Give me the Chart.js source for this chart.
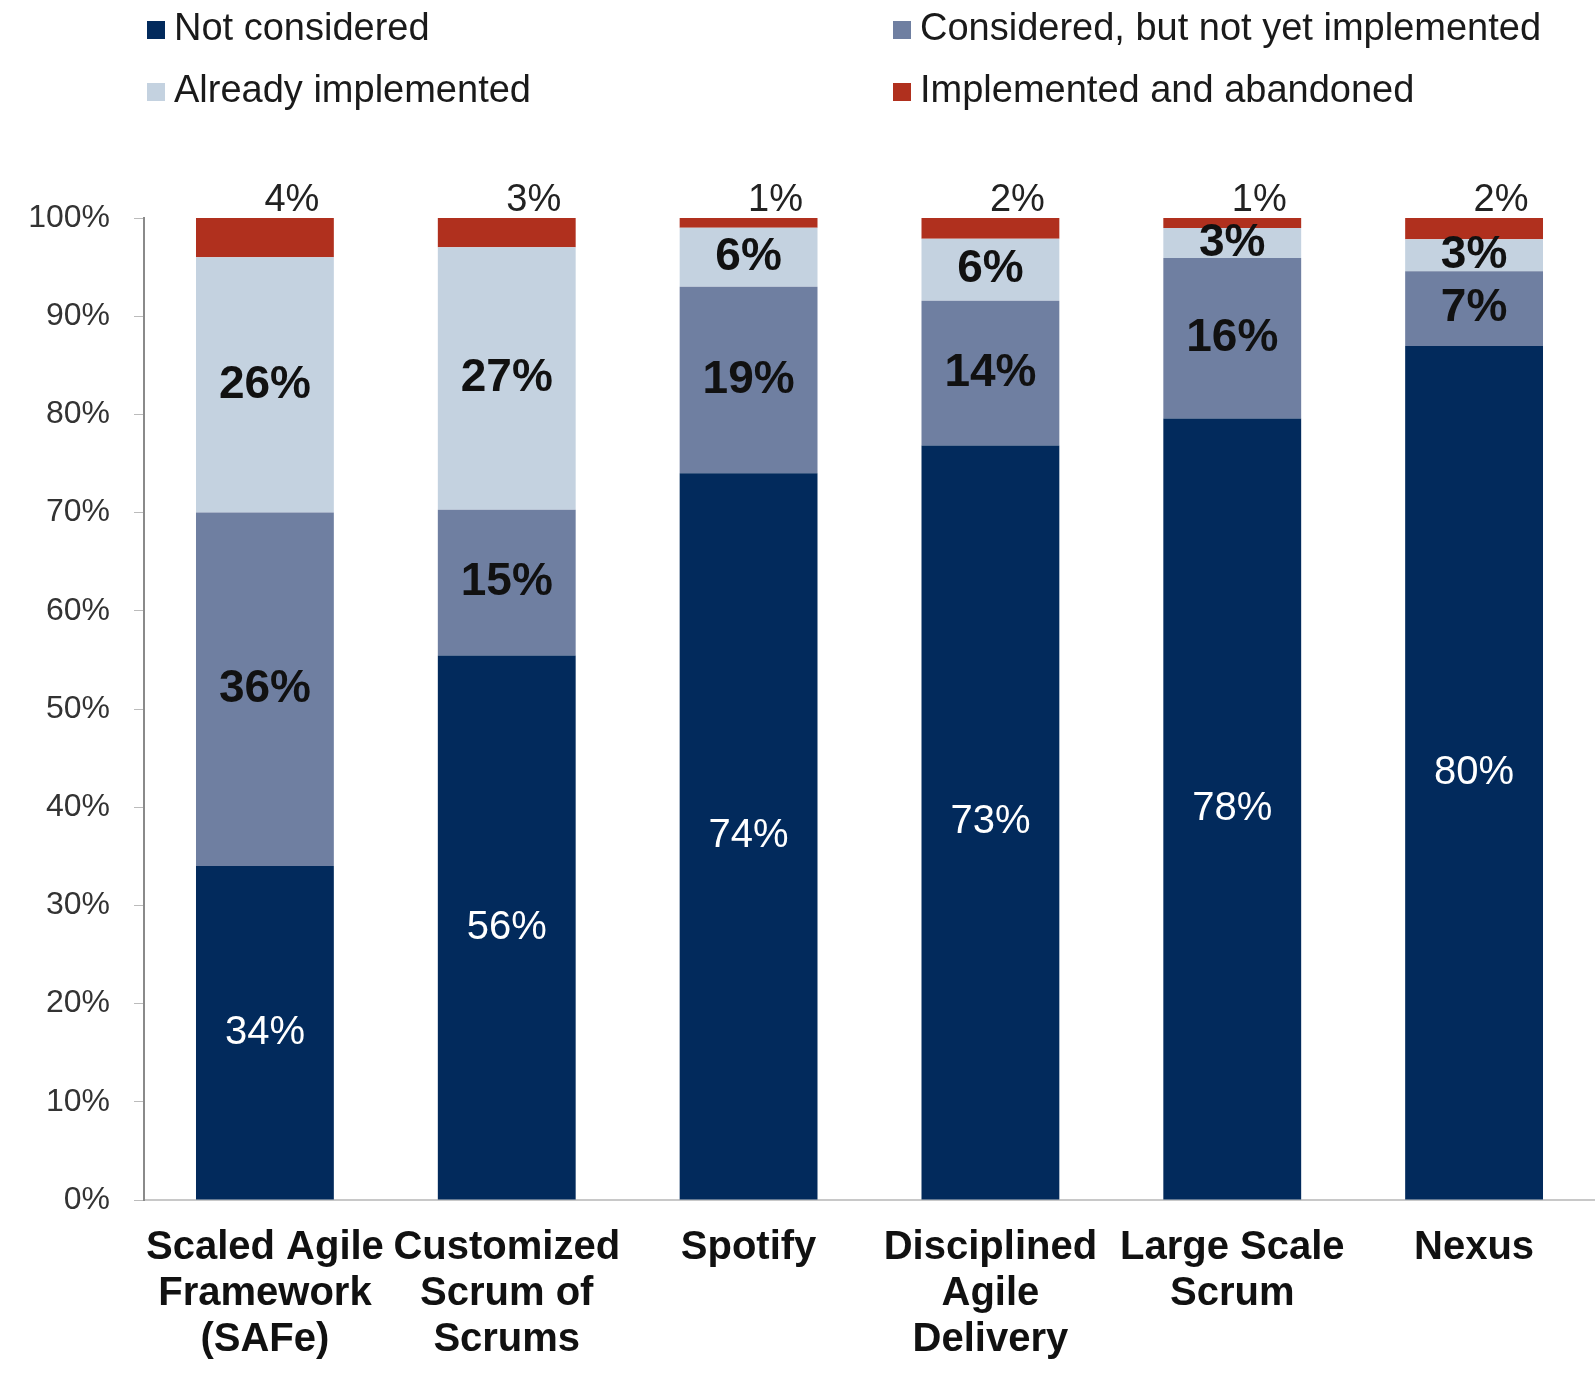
<!DOCTYPE html>
<html>
<head>
<meta charset="utf-8">
<script src="https://cdn.jsdelivr.net/npm/chart.js@4"></script>
<style>
html,body{margin:0;padding:0;background:#fff;}
#wrap{width:1595px;height:1383px;}
</style>
</head>
<body>
<div id="wrap"><canvas id="c" width="1595" height="1383"></canvas></div>
<script>
// ---- data ----
const categories = [
  ["Scaled Agile", "Framework", "(SAFe)"],
  ["Customized", "Scrum of", "Scrums"],
  ["Spotify"],
  ["Disciplined", "Agile", "Delivery"],
  ["Large Scale", "Scrum"],
  ["Nexus"]
];
const seriesNames = ["Not considered", "Considered, but not yet implemented", "Already implemented", "Implemented and abandoned"];
const notConsidered = [34, 56, 74, 73, 78, 80];
const consideredNotImpl = [36, 15, 19, 14, 16, 7];
const alreadyImpl = [26, 27, 6, 6, 3, 3];
const abandoned = [4, 3, 1, 2, 1, 2];
const yTicks = [0, 10, 20, 30, 40, 50, 60, 70, 80, 90, 100];

const colors = ["#022a5c", "#6f7fa1", "#c4d2e0", "#b0301e"];
const raw = [notConsidered, consideredNotImpl, alreadyImpl, abandoned];
// 100% stacked: each column normalized to its total
const totals = categories.map((_, i) => raw.reduce((s, arr) => s + arr[i], 0));
const normalized = raw.map(arr => arr.map((v, i) => v / totals[i] * 100));

const FONT = "'Liberation Sans', Arial, sans-serif";

const labelPlugin = {
  id: 'segLabels',
  afterDatasetsDraw(chart) {
    const ctx = chart.ctx;
    ctx.save();
    chart.data.datasets.forEach((ds, di) => {
      const meta = chart.getDatasetMeta(di);
      meta.data.forEach((el, i) => {
        const txt = raw[di][i] + '%';
        const top = Math.min(el.y, el.base), bot = Math.max(el.y, el.base);
        ctx.textAlign = 'center';
        if (di === 3) {
          ctx.font = `38px ${FONT}`;
          ctx.fillStyle = '#222';
          ctx.textBaseline = 'alphabetic';
          ctx.fillText(txt, el.x + 27, top - 7);
        } else if (di === 0) {
          ctx.font = `40px ${FONT}`;
          ctx.fillStyle = '#ffffff';
          ctx.textBaseline = 'middle';
          ctx.fillText(txt, el.x, (top + bot) / 2);
        } else {
          ctx.font = `bold 46px ${FONT}`;
          ctx.fillStyle = '#111';
          ctx.textBaseline = 'middle';
          ctx.fillText(txt, el.x, (top + bot) / 2);
        }
      });
    });
    ctx.restore();
  }
};

const legendPlugin = {
  id: 'gridLegend',
  afterDraw(chart) {
    const ctx = chart.ctx;
    const spots = [[147, 29], [893, 29], [147, 91], [893, 91]];
    ctx.save();
    ctx.font = `38px ${FONT}`;
    ctx.textBaseline = 'middle';
    ctx.textAlign = 'left';
    chart.data.datasets.forEach((ds, di) => {
      const [x, y] = spots[di];
      ctx.fillStyle = ds.backgroundColor;
      ctx.fillRect(x, y - 8, 18, 18);
      ctx.fillStyle = '#1a1a1a';
      ctx.fillText(ds.label, x + 27, y + 1);
    });
    ctx.restore();
  }
};

new Chart(document.getElementById('c'), {
  type: 'bar',
  data: {
    labels: categories,
    datasets: seriesNames.map((name, di) => ({
      label: name,
      data: normalized[di],
      backgroundColor: colors[di],
      borderWidth: 0,
      categoryPercentage: 1.0,
      barPercentage: 0.57
    }))
  },
  options: {
    responsive: false,
    animation: false,
    devicePixelRatio: 1,
    layout: { padding: { top: 218, right: 0, left: 0, bottom: 0 } },
    plugins: { legend: { display: false }, tooltip: { enabled: false } },
    scales: {
      x: {
        stacked: true,
        grid: { display: false, drawTicks: false },
        border: { display: true, color: '#c8c8c8', width: 2 },
        ticks: {
          color: '#111',
          font: { family: FONT, size: 40, weight: 'bold', lineHeight: 1.15 },
          padding: 25,
          maxRotation: 0,
          autoSkip: false
        },
        afterFit(s) { s.height = 183; }
      },
      y: {
        stacked: true,
        min: 0,
        max: 100,
        afterBuildTicks(s) { s.ticks = yTicks.map(v => ({ value: v })); },
        grid: { drawOnChartArea: false, drawTicks: true, tickLength: 10, color: '#bbbbbb' },
        border: { display: true, color: '#8a8a8a', width: 2 },
        ticks: {
          color: '#333',
          font: { family: FONT, size: 32 },
          padding: 24,
          callback: v => v + '%'
        },
        afterFit(s) { s.width = 144; }
      }
    }
  },
  plugins: [labelPlugin, legendPlugin]
});
</script>
</body>
</html>
